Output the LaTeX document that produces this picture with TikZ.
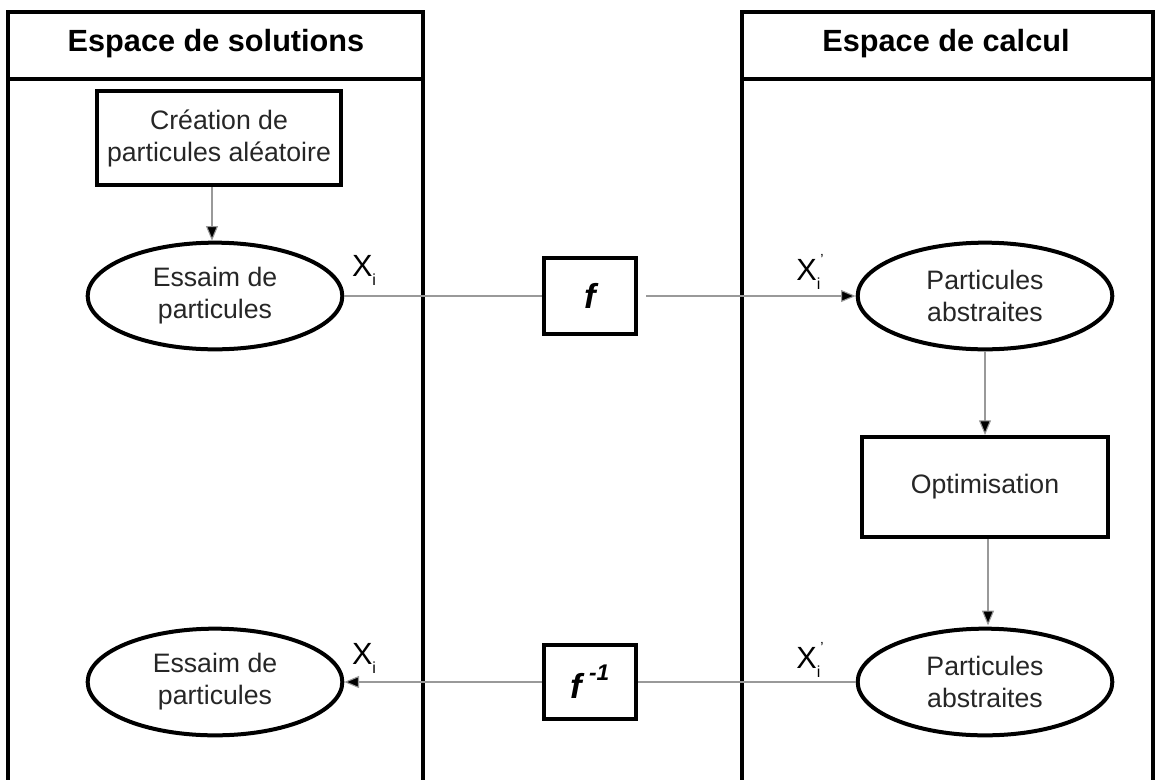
\documentclass[tikz,border=0pt]{standalone}
\usepackage{fontspec}
\setmainfont{Liberation Sans}
\usetikzlibrary{shapes.geometric,arrows.meta}

\newcommand{\petiti}{\raisebox{-0.55ex}{\fontsize{12}{13}\selectfont i}}
\newcommand{\prim}{\raisebox{1.0ex}{\fontsize{11}{12}\selectfont '}}

\begin{document}
\begin{tikzpicture}[x=0.75pt, y=-0.75pt,
    boite/.style={draw, line width=3pt, rectangle, align=center, inner sep=0pt, text=black!85, font=\fontsize{20}{24}\selectfont},
    essaim/.style={draw, ellipse, line width=3pt, align=center, inner sep=0pt, minimum width=191pt, minimum height=80pt, text=black!85, font=\fontsize{20}{24}\selectfont},
    titre/.style={font=\bfseries\fontsize{23}{26}\selectfont},
    lien/.style={draw=black!40, line width=0.8pt},
    fleche/.style={lien, -{Triangle[length=11pt, width=9pt, fill=black]}},
    indice/.style={font=\fontsize{23}{24}\selectfont, inner sep=0pt}]
    \useasboundingbox (0,0) rectangle (1155,779);

    % couloirs
    \draw[line width=3pt] (8,800) -- (8,12) -- (423,12) -- (423,800);
    \draw[line width=3pt] (8,79) -- (423,79);
    \draw[line width=3pt] (742,800) -- (742,12) -- (1153,12) -- (1153,800);
    \draw[line width=3pt] (742,79) -- (1153,79);
    \node[titre] (solutions) at (216,44) {Espace de solutions};
    \node[titre] (calcul) at (946,44) {Espace de calcul};

    % espace de solutions
    \node[boite, minimum width=183pt, minimum height=71pt] (creation) at (219,138) {Création de\\particules aléatoire};
    \node[essaim] (essaim1) at (215,296) {Essaim de\\particules};
    \node[essaim] (essaim2) at (215,682) {Essaim de\\particules};

    % fonctions
    \node[boite, minimum width=69pt, minimum height=57pt, font=\bfseries\itshape\fontsize{26}{28}\selectfont, text=black] (f) at (590,296) {f};
    \node[boite, minimum width=69pt, minimum height=56pt, font=\bfseries\itshape\fontsize{26}{28}\selectfont, text=black] (finv) at (590,682) {f\hspace{0.2em}\raisebox{1.0ex}{\fontsize{17}{18}\selectfont -1}};

    % espace de calcul
    \node[essaim] (abstr1) at (985,296) {Particules\\abstraites};
    \node[boite, minimum width=185pt, minimum height=75pt] (optim) at (985,487) {Optimisation};
    \node[essaim] (abstr2) at (985,682) {Particules\\abstraites};

    % liens
    \draw[fleche] (creation.south -| 212,0) -- (essaim1.north -| 212,0);
    \draw[lien] (essaim1.east) -- (f.west);
    \draw[fleche] ([xshift=6pt]f.east) -- (abstr1.west);
    \draw[fleche] (abstr1.south) -- (optim.north);
    \draw[fleche] (optim.south -| 988,0) -- ([yshift=1pt]abstr2.north -| 988,0);
    \draw[lien] (abstr2.west) -- (finv.east);
    \draw[fleche] (finv.west) -- (essaim2.east);

    % indices
    \node[indice] (x1) at (364,270) {X\petiti};
    \node[indice] (x2) at (810,272) {X\petiti\prim};
    \node[indice] (x3) at (364,658) {X\petiti};
    \node[indice] (x4) at (810,660) {X\petiti\prim};
\end{tikzpicture}
\end{document}
